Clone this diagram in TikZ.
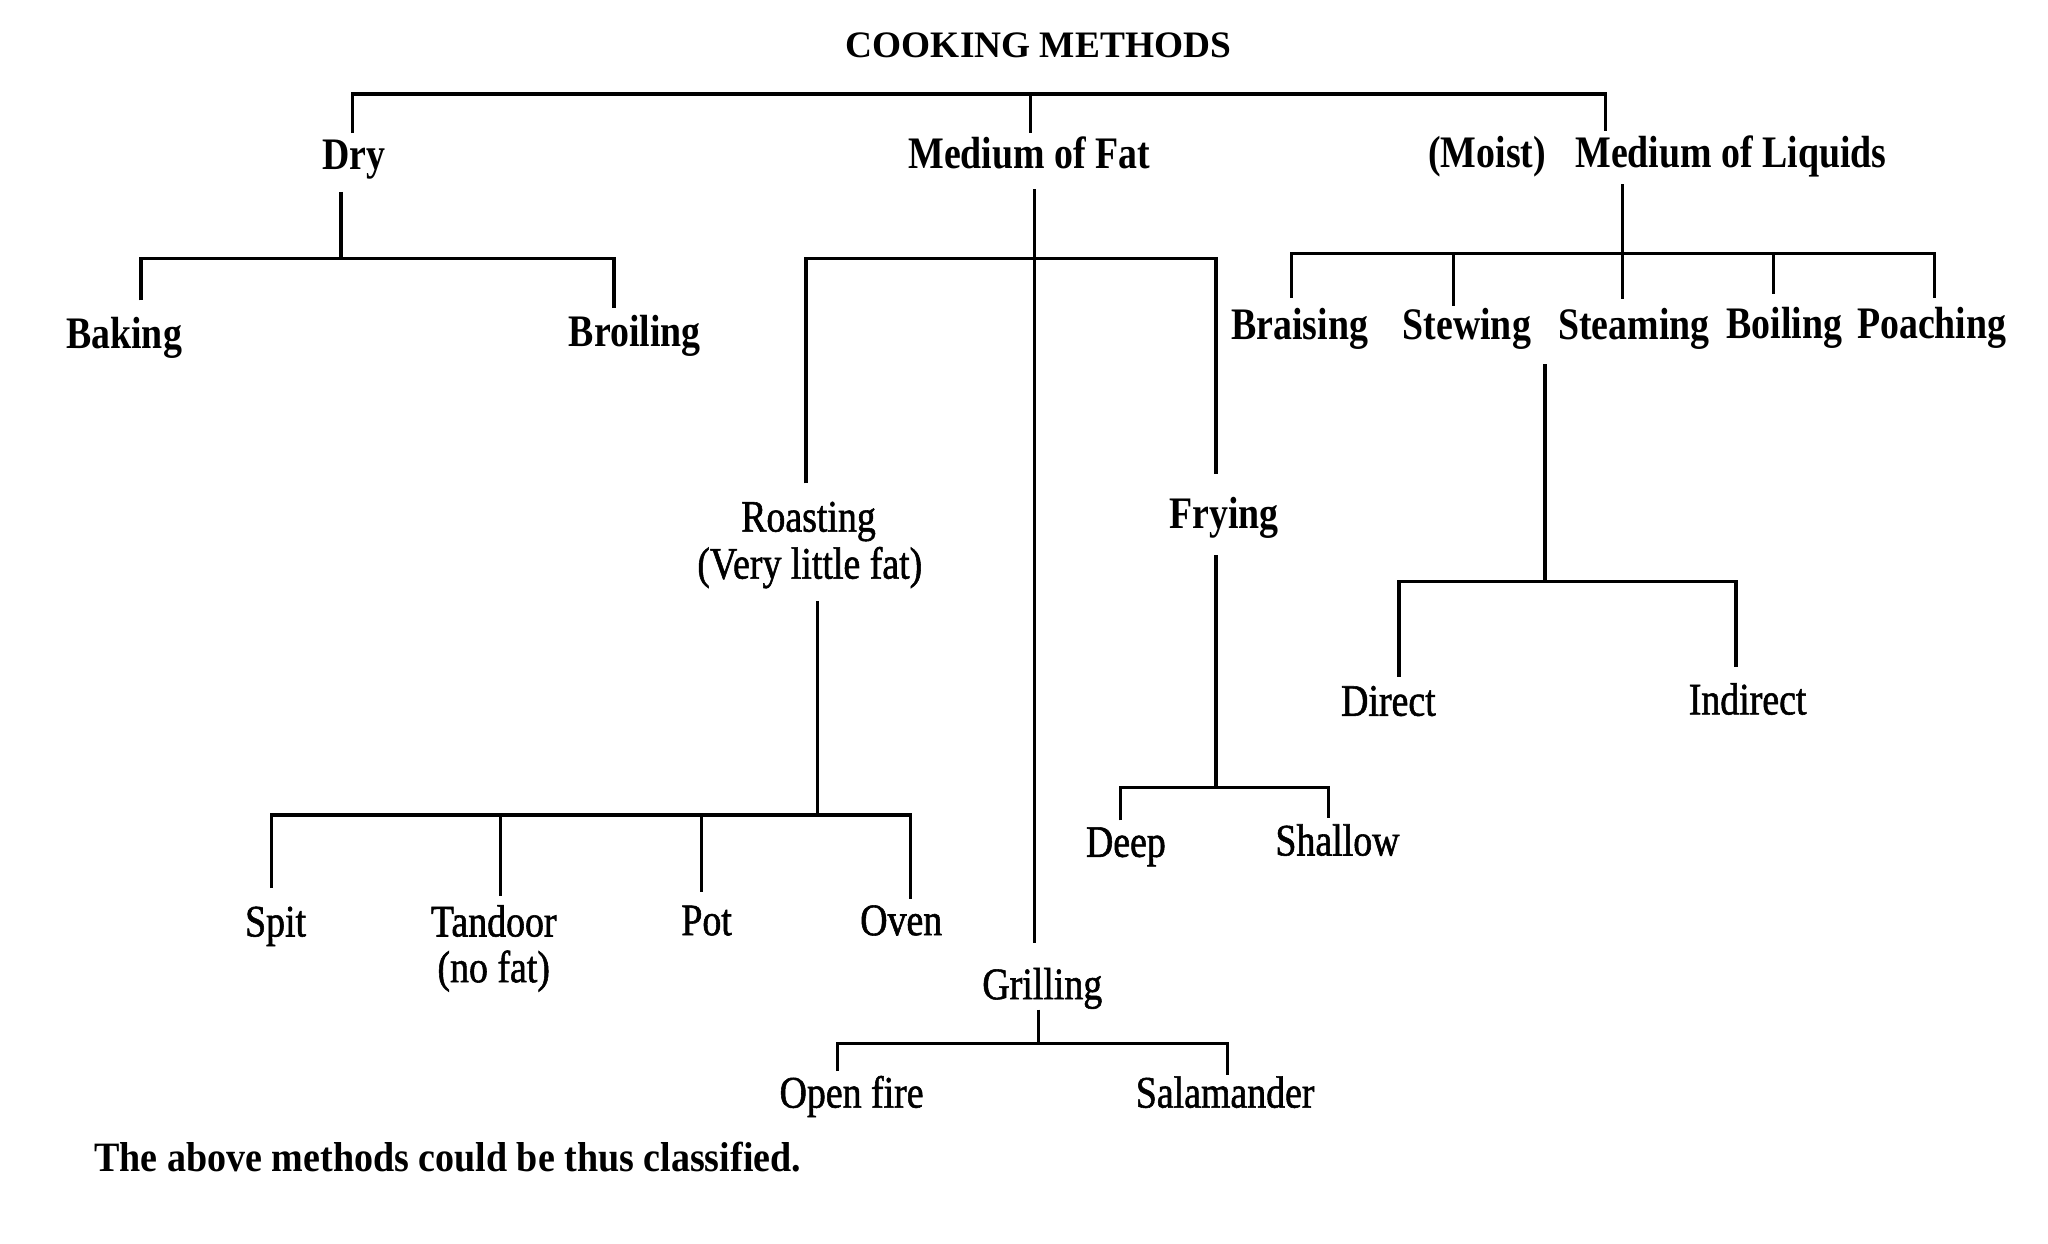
\documentclass[tikz,border=0pt]{standalone}
\usepackage{fontspec}
\setmainfont{Liberation Serif}[FakeStretch=0.84]
\newfontfamily\regfont{Liberation Serif}[FakeStretch=0.84, FakeBold=1.2]
\newfontfamily\titlefont{Liberation Serif}
\newfontfamily\capfont{Liberation Serif}[FakeStretch=0.91]
\begin{document}
\begin{tikzpicture}[x=1pt,y=-1pt,
  ln/.style={line width=2.6pt, line join=miter},
  lbl/.style={inner sep=0pt, outer sep=0pt, anchor=base, text height=23pt, text depth=8pt, font=\regfont\fontsize{34.5}{40}\selectfont},
  lblb/.style={lbl, font=\rmfamily\fontsize{34.5}{40}\selectfont\bfseries}]
\fill[white] (0,0) rectangle (1568,952);
\useasboundingbox (0,0) rectangle (1568,952);

% ---- texts ----
\node[anchor=base, inner sep=0pt, font=\titlefont\fontsize{28.6}{32}\selectfont\bfseries] (title) at (795,44) {COOKING METHODS};
\node[lblb] (dry) at (271,130) {Dry};
\node[lblb] (fat) at (788,129) {Medium of Fat};
\node[lblb] (liquids) at (1269,128) {(Moist)\hspace{0.65em}Medium of Liquids};
\node[lblb] (baking) at (95,267) {Baking};
\node[lblb] (broiling) at (486,265) {Broiling};
\node[lbl] (roasting) at (619,407) {Roasting};
\node[lbl] (roastnote) at (620,443) {(Very little fat)};
\node[lblb] (frying) at (937,405) {Frying};
\node[lbl] (spit) at (211,717) {Spit};
\node[lbl] (tandoor) at (378,717) {Tandoor};
\node[lbl] (tandoornote) at (378,752) {(no fat)};
\node[lbl] (pot) at (541,716) {Pot};
\node[lbl] (oven) at (690,716) {Oven};
\node[lbl] (deep) at (862,656) {Deep};
\node[lbl] (shallow) at (1024,655) {Shallow};
\node[lbl] (grilling) at (798,765) {Grilling};
\node[lbl] (openfire) at (652,848) {Open fire};
\node[lbl] (salamander) at (938,848) {Salamander};
\node[lblb] (braising) at (995,260) {Braising};
\node[lblb] (stewing) at (1123,260) {Stewing};
\node[lblb] (steaming) at (1251,260) {Steaming};
\node[lblb] (boiling) at (1366,259) {Boiling};
\node[lblb] (poaching) at (1479,259) {Poaching};
\node[lbl] (direct) at (1063,548) {Direct};
\node[lbl] (indirect) at (1338,547) {Indirect};
\node[anchor=base west, inner sep=0pt, font=\capfont\fontsize{32}{36}\selectfont\bfseries] (caption) at (72,897) {The above methods could be thus classified.};

% ---- junction coordinates ----
\coordinate (tDry) at (270,72);
\coordinate (tFat) at (789,72);
\coordinate (tLiq) at (1229,72);
\coordinate (jDry) at (261,198);
\coordinate (jBaking) at (108,198);
\coordinate (jBroiling) at (470,198);
\coordinate (xFat) at (792,198);
\coordinate (jRoast) at (617,198);
\coordinate (jFry) at (931,198);
\coordinate (jRoastBar) at (626,624);
\coordinate (jSpit) at (208,624);
\coordinate (jTandoor) at (383,624);
\coordinate (jPot) at (537,624);
\coordinate (jOven) at (697,624);
\coordinate (jFryBar) at (931,603);
\coordinate (jDeep) at (858,603);
\coordinate (jShallow) at (1017,603);
\coordinate (jGrill) at (795,799);
\coordinate (jOpen) at (641,799);
\coordinate (jSala) at (940,799);
\coordinate (jLiq) at (1242,194);
\coordinate (jBraising) at (989,194);
\coordinate (jStewing) at (1113,194);
\coordinate (jBoiling) at (1358,194);
\coordinate (jPoaching) at (1481,194);
\coordinate (jSteam) at (1183,445);
\coordinate (jDirect) at (1071,445);
\coordinate (jIndirect) at (1329,445);

% ---- connectors ----
\draw[ln, shorten <=5pt, shorten >=5pt] (dry.north -| tDry) -- (tDry) -- (tLiq) -- (liquids.north -| tLiq);
\draw[ln, shorten >=4pt] (tFat) -- (fat.north -| tFat);

\draw[ln, shorten <=9pt] (dry.south -| jDry) -- (jDry);
\draw[ln, shorten <=14pt, shorten >=6pt] (baking.north -| jBaking) -- (jBaking) -- (jBroiling) -- (broiling.north -| jBroiling);

\draw[ln, shorten <=8pt, shorten >=20pt] (fat.south -| xFat) -- (grilling.north -| xFat);
\draw[ln, shorten <=14pt, shorten >=19pt] (roasting.north -| jRoast) -- (jRoast) -- (jFry) -- (frying.north -| jFry);

\draw[ln, shorten <=9pt] (roastnote.south -| jRoastBar) -- (jRoastBar);
\draw[ln, shorten <=14pt, shorten >=5pt] (spit.north -| jSpit) -- (jSpit) -- (jOven) -- (oven.north -| jOven);
\draw[ln, shorten >=8pt] (jTandoor) -- (tandoor.north -| jTandoor);
\draw[ln, shorten >=10pt] (jPot) -- (pot.north -| jPot);

\draw[ln, shorten <=12pt] (frying.south -| jFryBar) -- (jFryBar);
\draw[ln, shorten <=5pt, shorten >=6pt] (deep.north -| jDeep) -- (jDeep) -- (jShallow) -- (shallow.north -| jShallow);

\draw[ln] (grilling.south -| jGrill) -- (jGrill);
\draw[ln, shorten <=5pt, shorten >=2pt] (openfire.north -| jOpen) -- (jOpen) -- (jSala) -- (salamander.north -| jSala);

\draw[ln, shorten <=5pt] (liquids.south -| jLiq) -- (jLiq);
\draw[ln, shorten <=9pt, shorten >=8pt] (braising.north -| jBraising) -- (jBraising) -- (jPoaching) -- (poaching.north -| jPoaching);
\draw[ln, shorten >=3pt] (jStewing) -- (stewing.north -| jStewing);
\draw[ln, shorten >=8pt] (jLiq) -- (steaming.north -| jLiq);
\draw[ln, shorten >=11pt] (jBoiling) -- (boiling.north -| jBoiling);

\draw[ln, shorten <=11pt] (steaming.south -| jSteam) -- (jSteam);
\draw[ln, shorten <=7pt, shorten >=13pt] (direct.north -| jDirect) -- (jDirect) -- (jIndirect) -- (indirect.north -| jIndirect);
\end{tikzpicture}
\end{document}
